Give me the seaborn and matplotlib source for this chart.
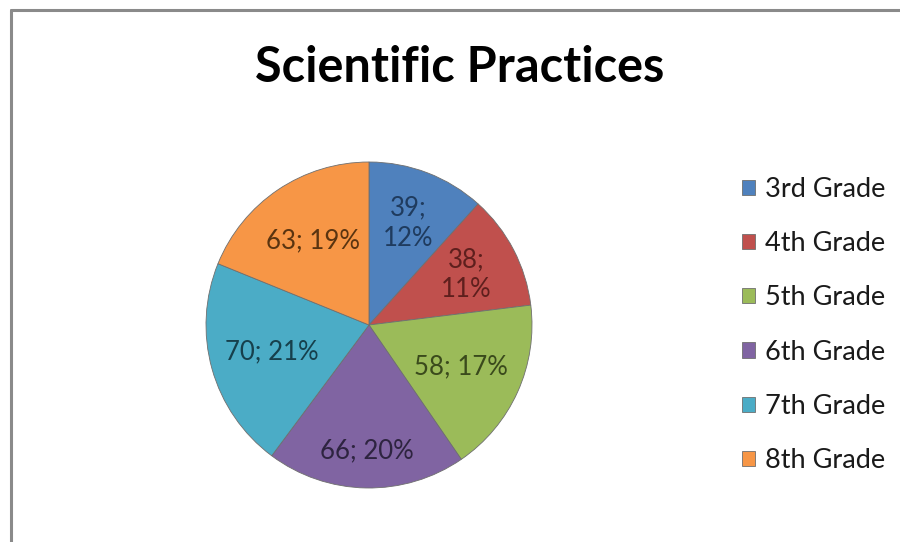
import numpy as np
import matplotlib
matplotlib.use("Agg")
import matplotlib.pyplot as plt
import seaborn as sns
from matplotlib.patches import Patch
from matplotlib.lines import Line2D

# data
grades = ['3rd Grade', '4th Grade', '5th Grade', '6th Grade', '7th Grade', '8th Grade']
counts = [39, 38, 58, 66, 70, 63]
slice_colors = ['#4F81BD', '#C0504D', '#9BBB59', '#8064A2', '#4BACC6', '#F79646']
label_colors = ['#1F3B5E', '#5E1F1D', '#3A4A1C', '#2E2440', '#16404C', '#5A3410']

sns.set_theme(style="white")
plt.rcParams['font.family'] = ['Lato', 'DejaVu Sans']

fig = plt.figure(figsize=(9, 5.42), dpi=100)

# pie axes: center ~ (369, 325) px, radius ~163 px
cx, cy, r = 369 / 900, 1 - 325 / 542, 163
ax = fig.add_axes([cx - r / 900, cy - r / 542, 2 * r / 900, 2 * r / 542])

pal = sns.color_palette(slice_colors)
total = sum(counts)
wedges, _ = ax.pie(counts, colors=pal, startangle=90, counterclock=False,
                   radius=1.0, wedgeprops=dict(edgecolor='#6f6f6f', linewidth=0.6))
ax.set_xlim(-1, 1)
ax.set_ylim(-1, 1)
ax.set_aspect('equal')
ax.axis('off')

# data labels "value; pct", narrow slices wrapped onto two lines
for w, v, c in zip(wedges, counts, label_colors):
    share = v / total
    pct = round(100 * share)
    theta = np.deg2rad((w.theta1 + w.theta2) / 2)
    narrow = share < 0.15
    txt = f"{v};\n{pct}%" if narrow else f"{v}; {pct}%"
    dist = 0.67 if narrow else 0.62
    if 0.19 < share < 0.2:
        dist = 0.77
    ax.text(dist * np.cos(theta), dist * np.sin(theta), txt, ha='center', va='center',
            fontsize=18.5, color=c, linespacing=1.25)

fig.text(460 / 900, 1 - 68 / 542, 'Scientific Practices', ha='center', va='center',
         fontsize=35, fontweight='bold', color='black')

handles = [Patch(facecolor=col, edgecolor='#6f6f6f', linewidth=0.6) for col in pal]
fig.legend(handles, grades, loc='center left', bbox_to_anchor=(731 / 900, 1 - 325 / 542),
           frameon=False, fontsize=19.5, handlelength=0.5, handleheight=0.5,
           handletextpad=0.35, labelspacing=1.08, labelcolor='#1a1a1a', borderaxespad=0)

# chart frame (top and left edges visible)
fig.add_artist(Line2D([11 / 900, 11 / 900], [0, 1 - 10 / 542], transform=fig.transFigure,
                      color='#8a8a8a', linewidth=2.2))
fig.add_artist(Line2D([11 / 900, 1], [1 - 10 / 542, 1 - 10 / 542], transform=fig.transFigure,
                      color='#8a8a8a', linewidth=2.2))

fig.savefig('out.png', dpi=100)
